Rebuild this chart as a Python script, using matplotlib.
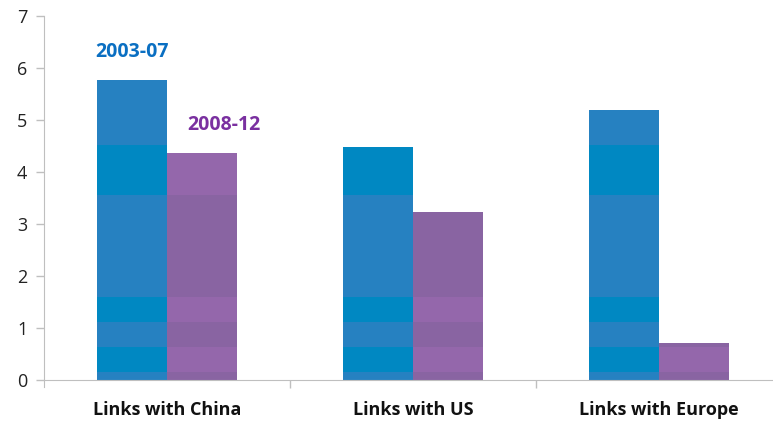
import matplotlib.pyplot as plt
import numpy as np

categories = ["Links with China", "Links with US", "Links with Europe"]
period_2003_07 = [5.77, 4.48, 5.19]
period_2008_12 = [4.37, 3.23, 0.71]

# horizontal shading bands across the bars (data units)
band_edges = [0, 0.15, 0.63, 1.12, 1.6, 3.56, 4.52, 7]
blue_shades = ["#2681c1", "#0088c2"]
purple_shades = ["#8964a2", "#9467ab"]

plt.rcParams['font.family'] = ['Open Sans', 'DejaVu Sans']

fig = plt.figure(figsize=(7.73, 4.21), dpi=100)
ax = fig.add_axes([44 / 773, 34.2 / 421, 1 - 44 / 773, 370.8 / 421])

x = np.arange(len(categories))
w = 0.285


def banded_bars(xpos, values, shades):
    for xi, v in zip(xpos, values):
        for i in range(len(band_edges) - 1):
            lo, hi = band_edges[i], min(band_edges[i + 1], v)
            if hi <= lo:
                break
            ax.bar(xi, hi - lo, w, bottom=lo, color=shades[i % 2], linewidth=0)


banded_bars(x - w / 2, period_2003_07, blue_shades)
banded_bars(x + w / 2, period_2008_12, purple_shades)

ax.text(x[0] - w / 2, 6.31, "2003-07", color="#0a6fc2", fontsize=14,
        fontweight="bold", ha="center", va="center")
ax.text(x[0] + w / 2 + 0.09, 4.9, "2008-12", color="#7a30a0", fontsize=14,
        fontweight="bold", ha="center", va="center")

ax.set_xlim(-0.5, 2.463)
ax.set_ylim(-0.13, 7)
ax.set_yticks(range(8))
ax.tick_params(axis="y", labelsize=13, colors="#bfbfbf", labelcolor="#222222",
               length=6, width=1, pad=6)
ax.set_xticks([0.5, 1.5])
ax.set_xticklabels([])
ax.tick_params(axis="x", length=6, width=1, colors="#bfbfbf")
for xi, name in zip(x, categories):
    ax.text(xi, -0.57, name, ha="center", va="center", fontsize=13,
            fontweight="bold", color="#111111")

for s in ["top", "right"]:
    ax.spines[s].set_visible(False)
ax.spines["left"].set_color("#bfbfbf")
ax.spines["bottom"].set_color("#bfbfbf")
ax.spines["bottom"].set_position(("data", 0))
ax.spines["left"].set_bounds(-0.13, 7)

fig.savefig("out.png", dpi=100)
